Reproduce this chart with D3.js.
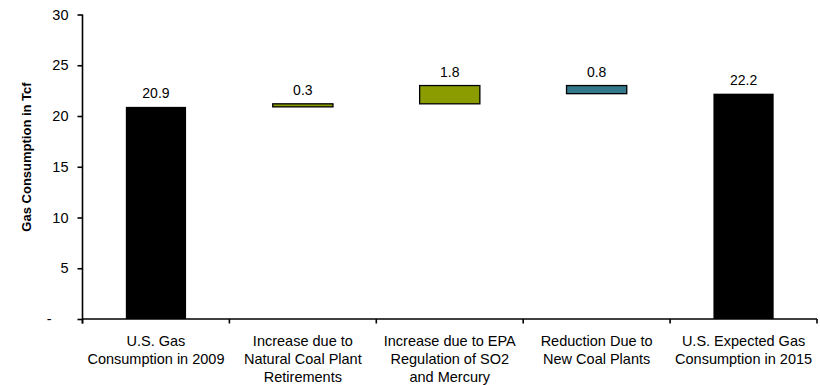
<!DOCTYPE html>
<html>
<head>
<meta charset="utf-8">
<script src="https://cdn.jsdelivr.net/npm/d3@7"></script>
<style>
  body { margin: 0; background: #fff; }
  svg text { font-family: "Liberation Sans", Arial, sans-serif; fill: #000; }
</style>
</head>
<body>
<svg id="chart" width="820" height="385"></svg>
<script>
// Waterfall: 2009 gas consumption, changes, 2015 expected consumption (Tcf)
const categories = [
  ["U.S. Gas", "Consumption in 2009"],
  ["Increase due to", "Natural Coal Plant", "Retirements"],
  ["Increase due to EPA", "Regulation of SO2", "and Mercury"],
  ["Reduction Due to", "New Coal Plants"],
  ["U.S. Expected Gas", "Consumption in 2015"]
];
const barKinds = ["total", "increase", "increase", "decrease", "total"];
const values = [20.9, 0.3, 1.8, 0.8, 22.2];
const valueLabels = ["20.9", "0.3", "1.8", "0.8", "22.2"];
const yTicks = [0, 5, 10, 15, 20, 25, 30];
const yTickLabels = ["-", "5", "10", "15", "20", "25", "30"];
const colors = { total: "#000000", increase: "#8a9c00", decrease: "#33798b" };

// Running totals give each bar its start and end.
let running = 0;
const bars = values.map((v, i) => {
  const kind = barKinds[i];
  let y0, y1;
  if (kind === "total") { y0 = 0; y1 = v; running = v; }
  else if (kind === "increase") { y0 = running; y1 = running + v; running = y1; }
  else { y0 = running - v; y1 = running; running = y0; }
  return { i, kind, y0, y1, label: valueLabels[i] };
});

const svg = d3.select("#chart");
const plotLeft = 82.5, plotRight = 817, plotTop = 14.5, plotBottom = 319;

const x = d3.scaleBand().domain(d3.range(categories.length)).range([plotLeft, plotRight])
  .paddingInner(0.59).paddingOuter(0.295);
const y = d3.scaleLinear().domain([0, 30]).range([plotBottom, plotTop]);

// Bars
svg.append("g").selectAll("rect").data(bars).join("rect")
  .attr("x", d => x(d.i))
  .attr("width", x.bandwidth())
  .attr("y", d => y(d.y1))
  .attr("height", d => y(d.y0) - y(d.y1))
  .attr("fill", d => colors[d.kind])
  .attr("stroke", d => d.kind === "total" ? "none" : "#000")
  .attr("stroke-width", 1.3);

// Value labels above each bar
svg.append("g").selectAll("text").data(bars).join("text")
  .attr("x", d => x(d.i) + x.bandwidth() / 2)
  .attr("y", d => y(d.y1) - 9)
  .attr("text-anchor", "middle")
  .style("font-size", "14px")
  .text(d => d.label);

// Y axis
const yAxis = svg.append("g").attr("transform", `translate(${plotLeft},0)`)
  .call(d3.axisLeft(y).tickValues(yTicks).tickSize(5).tickPadding(9)
    .tickFormat((d, i) => yTickLabels[i]));
yAxis.select(".domain").attr("d", `M0,${plotTop}V${plotBottom + 4.5}`);
yAxis.selectAll("path, line").attr("stroke", "#000").attr("stroke-width", 1.6);
yAxis.selectAll("text").style("font-size", "14.5px").attr("font-family", null)
  .attr("dx", (d, i) => yTickLabels[i] === "-" ? -17 : 0);

// X axis with tick marks at the category boundaries
const xg = svg.append("g");
xg.append("line").attr("x1", plotLeft).attr("x2", plotRight).attr("y1", plotBottom).attr("y2", plotBottom)
  .attr("stroke", "#000").attr("stroke-width", 1.6);
const step = x.step();
xg.selectAll("line.tick").data(d3.range(categories.length + 1)).join("line")
  .attr("class", "tick")
  .attr("x1", d => plotLeft + d * step).attr("x2", d => plotLeft + d * step)
  .attr("y1", plotBottom).attr("y2", plotBottom + 4.5)
  .attr("stroke", "#000").attr("stroke-width", 1.6);

const catText = xg.selectAll("text").data(categories).join("text")
  .attr("text-anchor", "middle")
  .attr("transform", (d, i) => `translate(${x(i) + x.bandwidth() / 2},${plotBottom + 27})`)
  .style("font-size", "14.5px");
catText.selectAll("tspan").data(d => d).join("tspan")
  .attr("x", 0).attr("dy", (d, j) => j === 0 ? 0 : 18.2)
  .text(d => d);

// Y axis title
svg.append("text")
  .attr("transform", "translate(31,157) rotate(-90)")
  .attr("text-anchor", "middle")
  .style("font-size", "13px").style("font-weight", "bold")
  .text("Gas Consumption in Tcf");
</script>
</body>
</html>
